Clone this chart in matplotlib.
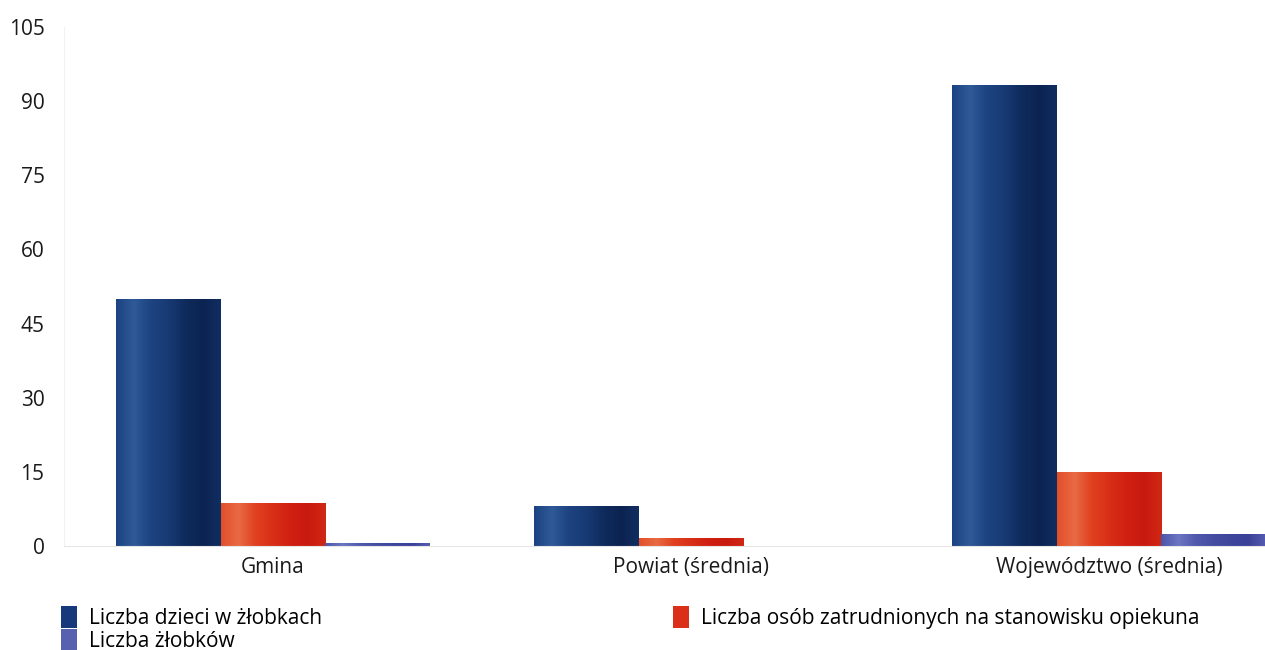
import numpy as np
import matplotlib
matplotlib.use("Agg")
import matplotlib.pyplot as plt
from matplotlib.colors import LinearSegmentedColormap
from matplotlib.patches import Patch

plt.rcParams['font.family'] = ['Open Sans', 'DejaVu Sans']

categories = ["Gmina", "Powiat (średnia)", "Województwo (średnia)"]
series_names = ["Liczba dzieci w żłobkach",
                "Liczba osób zatrudnionych na stanowisku opiekuna",
                "Liczba żłobków"]
dzieci = [50, 8, 93.3]
opiekunowie = [8.7, 1.6, 15]
zlobki = [0.7, 0, 2.4]
yticks = [0, 15, 30, 45, 60, 75, 90, 105]

# gradient stops for the "cylinder" look: light left, dark right
grads = [
    ["#1c4282", "#2f5a98", "#1d4380", "#173a74", "#0f2b5c", "#0b2350", "#112e62"],
    ["#e2502a", "#e86a45", "#e0401f", "#d82e18", "#cf2012", "#c91a10", "#d02814"],
    ["#4c54aa", "#6c75c2", "#5058ad", "#454da3", "#3e459c", "#3a4198", "#545cb0"],
]
flat = ["#15397a", "#dc2f1a", "#5860b0"]

W, H = 1265, 650
fig = plt.figure(figsize=(W / 100, H / 100), dpi=100)
ax = fig.add_axes([64 / W, 104 / H, 1254 / W, 519 / H])

x = np.arange(len(categories))
bw = 0.25
offsets = [-bw, 0, bw]
grad = np.linspace(0, 1, 256).reshape(1, -1)

for vals, off, g in zip([dzieci, opiekunowie, zlobki], offsets, grads):
    bars = ax.bar(x + off, vals, width=bw, color="none", edgecolor="none", zorder=2)
    cmap = LinearSegmentedColormap.from_list("g", g)
    for b in bars:
        h = b.get_height()
        if h <= 0:
            continue
        x0 = b.get_x()
        im = ax.imshow(grad, cmap=cmap, aspect="auto", zorder=2,
                       extent=[x0, x0 + b.get_width(), 0, h])
        im.set_clip_path(b)

ax.set_xlim(-0.5, 2.5)
ax.set_ylim(0, 105)
ax.set_yticks(yticks)
ax.set_xticks(x)
ax.set_xticklabels(categories)
ax.tick_params(axis="both", length=0, labelsize=15, colors="#1a1a1a")
ax.tick_params(axis="y", pad=14)
ax.tick_params(axis="x", pad=8)
for s in ["top", "right"]:
    ax.spines[s].set_visible(False)
ax.spines["left"].set_color("#f2f2f2")
ax.spines["bottom"].set_color("#e6e6e6")

h1 = [Patch(facecolor=flat[0]), Patch(facecolor=flat[2])]
h2 = [Patch(facecolor=flat[1])]
leg1 = fig.legend(h1, [series_names[0], series_names[2]], loc="upper left",
                  bbox_to_anchor=(53 / W, 1 - 598 / H), frameon=False,
                  fontsize=15, handlelength=0.75, handleheight=1.2,
                  handletextpad=0.6, labelspacing=0.0, borderaxespad=0)
leg2 = fig.legend(h2, [series_names[1]], loc="upper left",
                  bbox_to_anchor=(665 / W, 1 - 598 / H), frameon=False,
                  fontsize=15, handlelength=0.75, handleheight=1.2,
                  handletextpad=0.6, borderaxespad=0)

fig.savefig("out.png", dpi=100)
